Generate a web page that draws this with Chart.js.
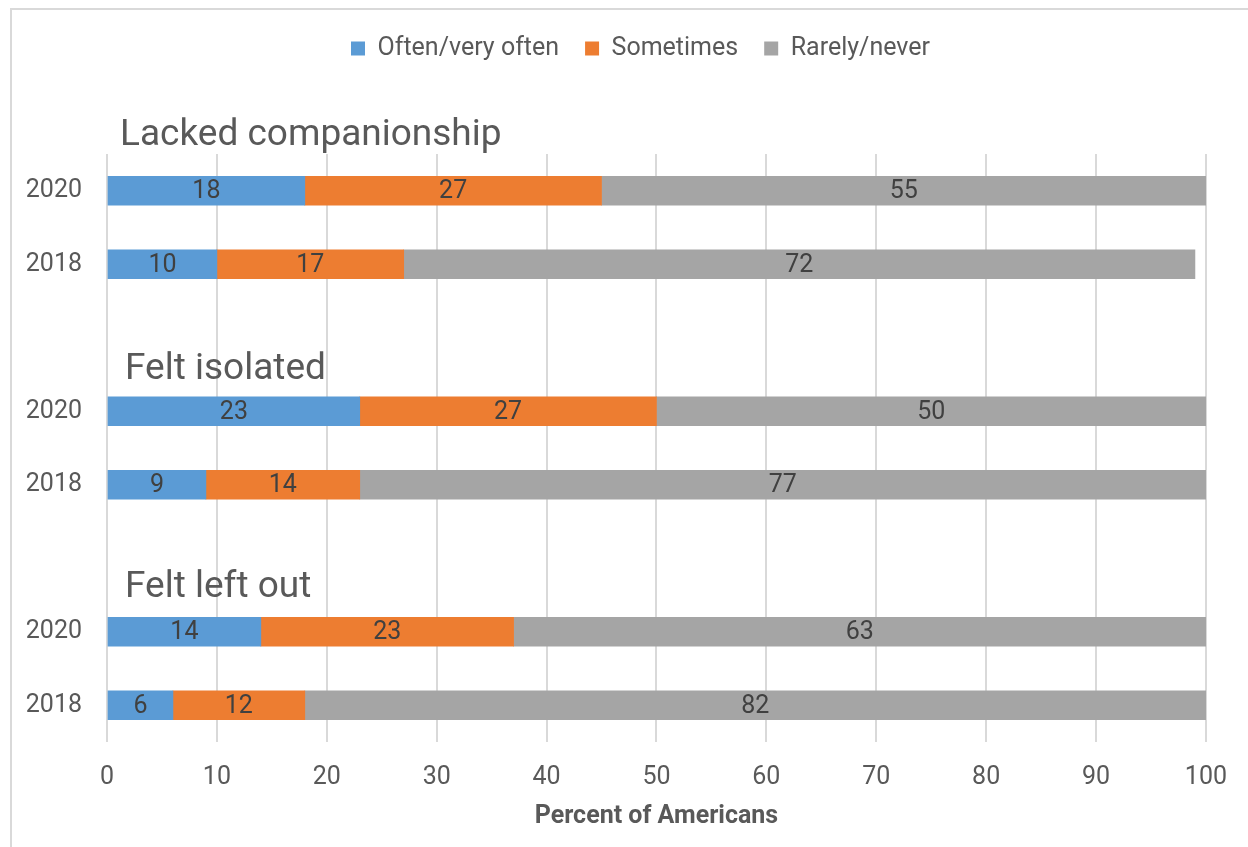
<!DOCTYPE html>
<html>
<head>
<meta charset="utf-8">
<script src="https://cdn.jsdelivr.net/npm/chart.js@4.4.1/dist/chart.umd.min.js"></script>
<style>
  body { margin: 0; background: #fff; overflow: hidden; }
  #frame { position: absolute; left: 10px; top: 8px; width: 1400px; height: 1000px;
           border-left: 2px solid #d9d9d9; border-top: 2px solid #d9d9d9; }
  #chart { position: absolute; left: 0; top: 0; }
</style>
</head>
<body>
<div id="frame"></div>
<canvas id="chart" width="1248" height="847"></canvas>
<script>
// rows: blank rows hold the group titles
var rowLabels = ['2020', '2018', '', '2020', '2018', '', '2020', '2018'];
var groupTitles = ['Lacked companionship', 'Felt isolated', 'Felt left out'];
var groupRows = [0, 3, 6];

var oftenVals     = [18, 10, null, 23, 9,  null, 14, 6];
var sometimesVals = [27, 17, null, 27, 14, null, 23, 12];
var rarelyVals    = [55, 72, null, 50, 77, null, 63, 82];

var seriesNames = ['Often/very often', 'Sometimes', 'Rarely/never'];
var seriesColors = ['#5b9bd5', '#ed7d31', '#a5a5a5'];

var textGray = '#595959';

// values written in the middle of each bar piece
var barLabels = {
  id: 'barLabels',
  afterDatasetsDraw: function(chart) {
    var ctx = chart.ctx;
    ctx.save();
    ctx.font = '25px Roboto, "Noto Sans", sans-serif';
    ctx.fillStyle = '#404040';
    ctx.textAlign = 'center';
    ctx.textBaseline = 'middle';
    chart.data.datasets.forEach(function(ds, i) {
      var meta = chart.getDatasetMeta(i);
      meta.data.forEach(function(bar, j) {
        var v = ds.data[j];
        if (v == null) return;
        var p = bar.getProps(['x', 'base', 'y'], true);
        ctx.fillText(String(v), (p.x + p.base) / 2, p.y + 1);
      });
    });
    ctx.restore();
  }
};

// big group headings above each pair of bars
var groupHeads = {
  id: 'groupHeads',
  afterDraw: function(chart) {
    var ctx = chart.ctx;
    var y = chart.scales.y;
    var lift = [46, 32, 35];
    var left = [120, 125, 125];
    ctx.save();
    ctx.font = '37px Roboto, "Noto Sans", sans-serif';
    ctx.fillStyle = textGray;
    ctx.textAlign = 'left';
    ctx.textBaseline = 'alphabetic';
    groupTitles.forEach(function(t, k) {
      ctx.fillText(t, left[k], y.getPixelForValue(groupRows[k]) - lift[k]);
    });
    ctx.restore();
  }
};

// legend sits a bit right of the canvas centre in the original
var nudgeLegend = {
  id: 'nudgeLegend',
  afterLayout: function(chart) {
    if (!chart.legend) return;
    chart.legend.left += 37;
    chart.legend.right += 37;
  }
};

var datasets = [oftenVals, sometimesVals, rarelyVals].map(function(vals, i) {
  return {
    label: seriesNames[i],
    data: vals,
    backgroundColor: seriesColors[i],
    borderWidth: 0,
    barThickness: 29
  };
});

new Chart(document.getElementById('chart'), {
  type: 'bar',
  data: { labels: rowLabels, datasets: datasets },
  options: {
    indexAxis: 'y',
    responsive: false,
    animation: false,
    layout: { padding: { left: 0, right: 41, top: 10, bottom: 0 } },
    plugins: {
      tooltip: { enabled: false },
      legend: {
        position: 'top',
        labels: {
          boxWidth: 14,
          boxHeight: 14,
          padding: 26,
          color: textGray,
          font: { family: 'Roboto', size: 25 }
        }
      }
    },
    scales: {
      x: {
        stacked: true,
        min: 0,
        max: 100,
        ticks: { stepSize: 10, padding: 21, color: textGray, font: { family: 'Roboto', size: 25 } },
        grid: { color: '#d9d9d9', lineWidth: 2, drawTicks: false },
        border: { display: false },
        title: {
          display: true,
          text: 'Percent of Americans',
          color: textGray,
          font: { family: 'Roboto', size: 25, weight: 'bold' },
          padding: { top: 4, bottom: 15 }
        },
        afterFit: function(s) { s.height = 105; }
      },
      xTop: {
        type: 'linear',
        axis: 'x',
        position: 'top',
        min: 0,
        max: 100,
        ticks: { display: false },
        grid: { display: false, drawTicks: false },
        border: { display: false },
        afterFit: function(s) { s.height = 83; }
      },
      y: {
        stacked: true,
        ticks: { padding: 25, color: textGray, font: { family: 'Roboto', size: 25 } },
        grid: { display: false, drawTicks: false },
        border: { display: false },
        afterFit: function(s) { s.width = 107; }
      }
    }
  },
  plugins: [barLabels, groupHeads, nudgeLegend]
});
</script>
</body>
</html>
